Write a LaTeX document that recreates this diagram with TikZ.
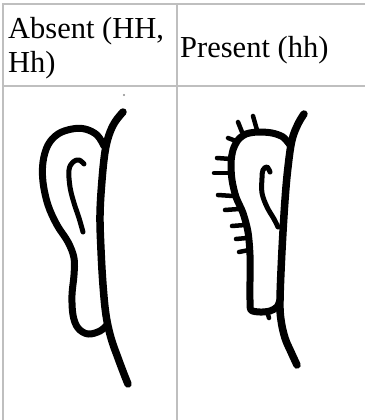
\documentclass[tikz,border=0pt]{standalone}
\usepackage{fontspec}
\setmainfont{Liberation Serif}
\begin{document}
\begin{tikzpicture}[x=1pt,y=-1pt,
  rule/.style={draw=black!25,line width=2pt},
  label/.style={anchor=base west,inner sep=0pt,font=\fontsize{30.5}{34}\selectfont},
  earline/.style={draw=black,line width=7.5pt,line cap=round,line join=round},
  rim/.style={draw=black,line width=7pt,line cap=round,line join=round},
  curl/.style={draw=black,line width=5pt,line cap=round,line join=round},
  hair/.style={draw=black,line width=4.5pt,line cap=round}]
\useasboundingbox (0,0) rectangle (365,420);
\fill[white] (0,0) rectangle (365,420);

% table rules
\coordinate (tl) at (3,4);
\coordinate (tr) at (365,4);
\coordinate (ml) at (3,86);
\coordinate (mr) at (365,86);
\coordinate (ct) at (177,4);
\coordinate (cb) at (177,420);
\coordinate (lb) at (3,420);
\draw[rule] (tr) -- (tl) -- (lb);
\draw[rule] (ml) -- (mr);
\draw[rule] (ct) -- (cb);

% header texts
\node[label] (absentA) at (8,39) {Absent (HH,};
\node[label] (absentB) at (8,73) {Hh)};
\node[label] (present) at (180,57) {Present (hh)};

% ear without hair
\draw[earline] plot[smooth,tension=0.6] coordinates {(123,112) (115,122) (109,135) (105,152) (102,180) (100,215) (101,250) (103,285) (106,315) (111,338) (118,358) (124,374) (128,384)};
\draw[rim] plot[smooth,tension=0.6] coordinates {(104,146) (97,135) (85,129) (72,129) (58,134) (48,145) (43,162) (43,182) (48,205) (57,225) (68,242) (74,258) (74,275) (72,295) (73,315) (78,328) (88,334) (100,331) (107,325)};
\draw[curl] plot[smooth,tension=0.6] coordinates {(84,164) (79,160) (73,162) (69,170) (70,187) (74,203) (79,218) (83,232)};
\fill[black!45] (124,95) circle (1.2pt);

% hairy ear
\draw[earline] plot[smooth,tension=0.6] coordinates {(304,114) (298,124) (292,140) (288,167) (285,200) (282,250) (280,300) (281,320) (285,338) (291,352) (297,365)};
\draw[rim] plot[smooth,tension=0.5] coordinates {(290,145) (283,137) (272,133) (258,132) (246,134) (238,140) (233,150) (231,163) (232,180) (236,197) (243,213) (248,232) (250,255) (250,280) (250,300) (251,310) (260,312) (270,311) (277,307) (280,300)};
\draw[curl] plot[smooth,tension=0.6] coordinates {(270,172) (267,167) (263,170) (262,178) (262,193) (267,207) (274,219) (278,227)};
\draw[hair] (267,311) -- (269,318);
\foreach \a/\b in {{(238,122)}/{(242,132)},{(253,116)}/{(257,130)},{(228,138)}/{(236,141)},{(217,158)}/{(231,159)},{(214,173)}/{(230,173)},{(218,195)}/{(233,196)},{(225,210)}/{(239,209)},{(232,226)}/{(245,225)},{(236,239)}/{(247,238)},{(239,252)}/{(249,250)}}
  \draw[hair] \a -- \b;
\end{tikzpicture}
\end{document}
